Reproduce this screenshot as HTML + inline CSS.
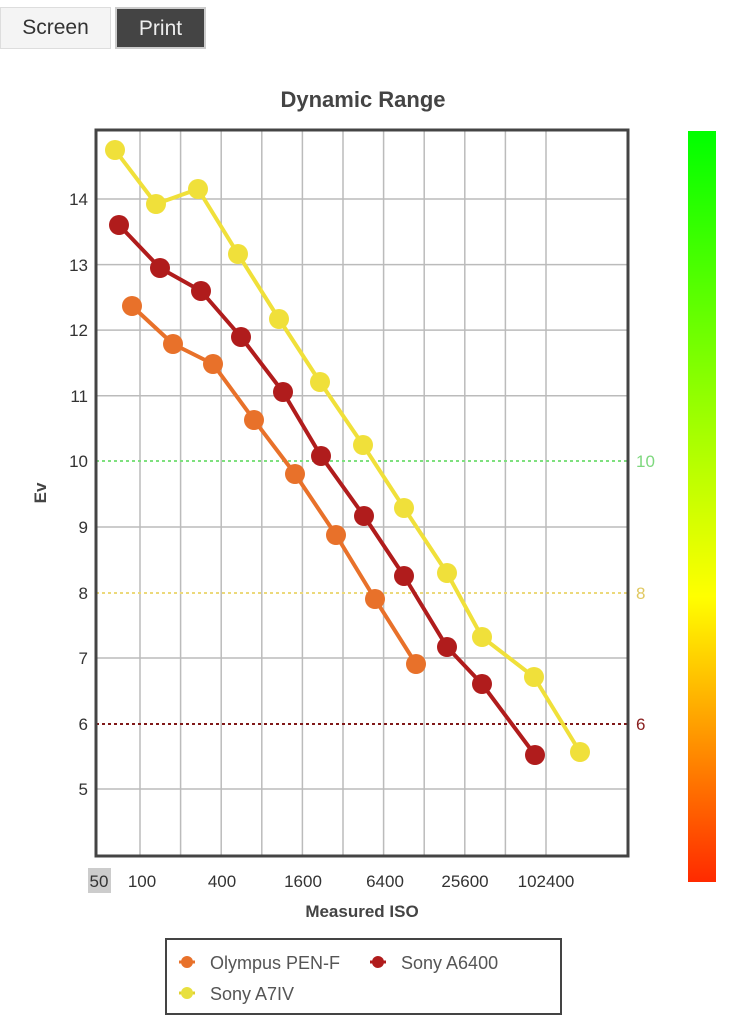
<!DOCTYPE html>
<html><head><meta charset="utf-8"><style>
body{margin:0;width:753px;height:1024px;background:#fff;font-family:"Liberation Sans",sans-serif;overflow:hidden;position:relative}
.btn{position:absolute;top:7px;height:42px;line-height:40px;font-size:21px;text-align:center;box-sizing:border-box}
</style></head><body>
<div class="btn" style="left:0;width:111px;background:#f4f4f4;border:1px solid #ddd;color:#333">Screen</div>
<div class="btn" style="left:115px;width:91px;background:#444;border:2px solid #ccc;color:#eee">Print</div>
<svg width="753" height="1024" style="position:absolute;left:0;top:0">
<defs><linearGradient id="g" x1="0" y1="0" x2="0" y2="1">
<stop offset="0" stop-color="#00ff00"/><stop offset="0.62" stop-color="#ffff00"/><stop offset="1" stop-color="#ff2a00"/></linearGradient></defs>
<text x="363" y="107" text-anchor="middle" font-size="22" font-weight="bold" fill="#444">Dynamic Range</text>
<g stroke="#bbb" stroke-width="1.5">
<line x1="140" y1="130" x2="140" y2="856"/><line x1="180.6" y1="130" x2="180.6" y2="856"/><line x1="221.2" y1="130" x2="221.2" y2="856"/><line x1="261.8" y1="130" x2="261.8" y2="856"/><line x1="302.4" y1="130" x2="302.4" y2="856"/><line x1="343" y1="130" x2="343" y2="856"/><line x1="383.6" y1="130" x2="383.6" y2="856"/><line x1="424.2" y1="130" x2="424.2" y2="856"/><line x1="464.8" y1="130" x2="464.8" y2="856"/><line x1="505.4" y1="130" x2="505.4" y2="856"/><line x1="546" y1="130" x2="546" y2="856"/>
<line x1="96" y1="199" x2="628" y2="199"/><line x1="96" y1="264.6" x2="628" y2="264.6"/><line x1="96" y1="330.1" x2="628" y2="330.1"/><line x1="96" y1="395.7" x2="628" y2="395.7"/><line x1="96" y1="527" x2="628" y2="527"/><line x1="96" y1="658" x2="628" y2="658"/><line x1="96" y1="789" x2="628" y2="789"/>
</g>
<line x1="96" y1="461" x2="628" y2="461" stroke="#7ee07e" stroke-width="2" stroke-dasharray="3,3"/>
<line x1="96" y1="593" x2="628" y2="593" stroke="#ecd97a" stroke-width="2" stroke-dasharray="3,3"/>
<line x1="96" y1="724" x2="628" y2="724" stroke="#801818" stroke-width="2" stroke-dasharray="3,3"/>
<rect x="96" y="130" width="532" height="726" fill="none" stroke="#444" stroke-width="3"/>
<g font-size="17" fill="#333" text-anchor="end">
<text x="88" y="205">14</text><text x="88" y="271">13</text><text x="88" y="336">12</text><text x="88" y="402">11</text><text x="88" y="467">10</text><text x="88" y="533">9</text><text x="88" y="599">8</text><text x="88" y="664">7</text><text x="88" y="730">6</text><text x="88" y="795">5</text>
</g>
<text x="636" y="467" font-size="17" fill="#7ed87e">10</text>
<text x="636" y="599" font-size="17" fill="#e0c860">8</text>
<text x="636" y="730" font-size="17" fill="#8a2020">6</text>
<text transform="translate(46,493) rotate(-90)" text-anchor="middle" font-size="17" font-weight="bold" fill="#444">Ev</text>
<rect x="88" y="868" width="23" height="25" fill="#ccc"/>
<g font-size="17" fill="#333" text-anchor="middle">
<text x="99" y="887">50</text><text x="142" y="887">100</text><text x="222" y="887">400</text><text x="303" y="887">1600</text><text x="385" y="887">6400</text><text x="465" y="887">25600</text><text x="546" y="887">102400</text>
</g>
<text x="362" y="917" text-anchor="middle" font-size="17" font-weight="bold" fill="#444">Measured ISO</text>
<rect x="688" y="131" width="28" height="751" fill="url(#g)"/>
<g stroke-width="4" fill="none" stroke-linejoin="round">
<polyline stroke="#f0e03a" points="115,150 156,204 198,189 238,254 279,319 320,382 363,445 404,508 447,573 482,637 534,677 580,752"/>
<polyline stroke="#b01c1c" points="119,225 160,268 201,291 241,337 283,392 321,456 364,516 404,576 447,647 482,684 535,755"/>
<polyline stroke="#e8712a" points="132,306 173,344 213,364 254,420 295,474 336,535 375,599 416,664"/>
</g>
<g fill="#f0e03a"><circle cx="115" cy="150" r="10"/><circle cx="156" cy="204" r="10"/><circle cx="198" cy="189" r="10"/><circle cx="238" cy="254" r="10"/><circle cx="279" cy="319" r="10"/><circle cx="320" cy="382" r="10"/><circle cx="363" cy="445" r="10"/><circle cx="404" cy="508" r="10"/><circle cx="447" cy="573" r="10"/><circle cx="482" cy="637" r="10"/><circle cx="534" cy="677" r="10"/><circle cx="580" cy="752" r="10"/></g>
<g fill="#b01c1c"><circle cx="119" cy="225" r="10"/><circle cx="160" cy="268" r="10"/><circle cx="201" cy="291" r="10"/><circle cx="241" cy="337" r="10"/><circle cx="283" cy="392" r="10"/><circle cx="321" cy="456" r="10"/><circle cx="364" cy="516" r="10"/><circle cx="404" cy="576" r="10"/><circle cx="447" cy="647" r="10"/><circle cx="482" cy="684" r="10"/><circle cx="535" cy="755" r="10"/></g>
<g fill="#e8712a"><circle cx="132" cy="306" r="10"/><circle cx="173" cy="344" r="10"/><circle cx="213" cy="364" r="10"/><circle cx="254" cy="420" r="10"/><circle cx="295" cy="474" r="10"/><circle cx="336" cy="535" r="10"/><circle cx="375" cy="599" r="10"/><circle cx="416" cy="664" r="10"/></g>
<rect x="166" y="939" width="395" height="75" fill="#fff" stroke="#444" stroke-width="2"/>
<g stroke-width="3"><line x1="179" y1="962" x2="195" y2="962" stroke="#e8712a"/><circle cx="187" cy="962" r="6" fill="#e8712a"/>
<line x1="370" y1="962" x2="386" y2="962" stroke="#b01c1c"/><circle cx="378" cy="962" r="6" fill="#b01c1c"/>
<line x1="179" y1="993" x2="195" y2="993" stroke="#e0d030"/><circle cx="187" cy="993" r="6" fill="#e8e040"/></g>
<g font-size="18" fill="#555"><text x="210" y="969">Olympus PEN-F</text><text x="401" y="969">Sony A6400</text><text x="210" y="1000">Sony A7IV</text></g>
</svg>
</body></html>
